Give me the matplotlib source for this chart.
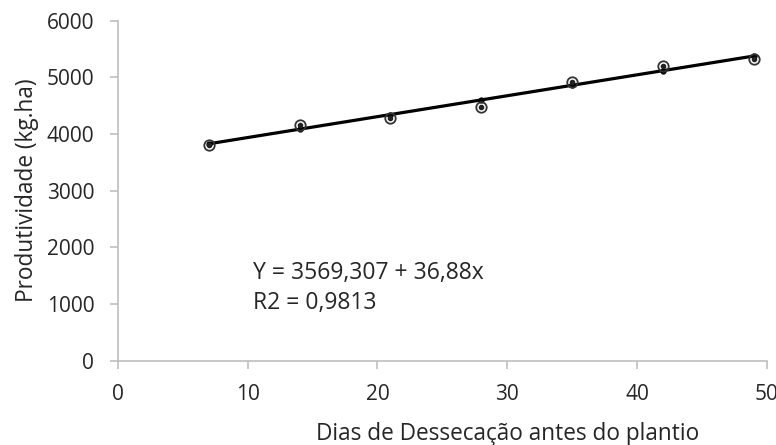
import numpy as np
import matplotlib.pyplot as plt

# Dias de dessecação e produtividade observada
dias = [7, 14, 21, 28, 35, 42, 49]
produtividade = [3810, 4160, 4290, 4470, 4920, 5200, 5320]

# Coeficientes da regressão linear
intercepto = 3569.307
inclinacao = 36.88
r2 = 0.9813

x_ticks = [0, 10, 20, 30, 40, 50]
y_ticks = [0, 1000, 2000, 3000, 4000, 5000, 6000]

plt.rcParams['font.family'] = ['Open Sans', 'DejaVu Sans']

fig = plt.figure(figsize=(7.76, 4.45), dpi=100)
ax = fig.add_axes([0.152, 0.1894, 0.836, 0.7641])

x = np.array(dias)
ajuste = intercepto + inclinacao * x

# Reta ajustada
ax.plot(x, ajuste, color='black', linewidth=2.3, solid_capstyle='round', zorder=2)
ax.plot(x, ajuste, 'o', color='black', markersize=3.5, zorder=3)

# Pontos observados
ax.plot(dias, produtividade, 'o', markerfacecolor='none', markeredgecolor='#333333',
        markeredgewidth=1.3, markersize=7.5, zorder=4)
ax.plot(dias, produtividade, 'o', color='#222222', markersize=3, zorder=4)

ax.text(10.4, 1550, 'Y = 3569,307 + 36,88x', fontsize=16.5, va='center', ha='left',
        color='#262626')
ax.text(10.4, 1020, 'R2 = 0,9813', fontsize=16.5, va='center', ha='left',
        color='#262626')

ax.set_xlim(0, 50)
ax.set_ylim(0, 6000)
ax.set_xticks(x_ticks)
ax.set_yticks(y_ticks)

for s in ['top', 'right']:
    ax.spines[s].set_visible(False)
for s in ['left', 'bottom']:
    ax.spines[s].set_color('#BFBFBF')
    ax.spines[s].set_linewidth(1.2)
    ax.spines[s].set_clip_on(False)

ax.tick_params(axis='both', colors='#BFBFBF', length=6, width=1.2, direction='out',
               labelcolor='#262626', labelsize=15, pad=11)

ax.set_xlabel('Dias de Dessecação antes do plantio', fontsize=16.3, color='#262626')
ax.xaxis.set_label_coords(0.6, -0.18)
ax.set_ylabel('Produtividade (kg.ha)', fontsize=16.3, color='#262626')
ax.yaxis.set_label_coords(-0.122, 0.5)

fig.savefig('out.png', dpi=100)
